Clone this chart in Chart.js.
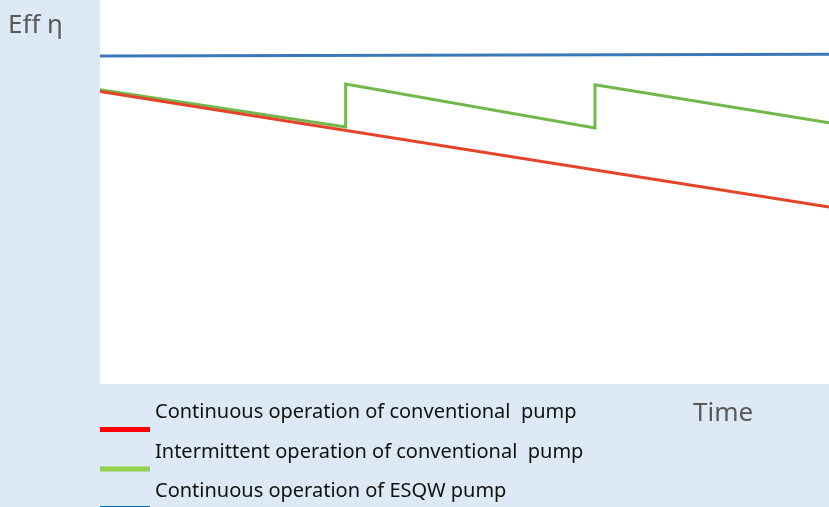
<!DOCTYPE html>
<html>
<head>
<meta charset="utf-8">
<script src="https://cdn.jsdelivr.net/npm/chart.js@4"></script>
<style>
  html, body { margin: 0; padding: 0; background: #dde9f5; }
  #wrap { width: 829px; height: 507px; }
</style>
</head>
<body>
<div id="wrap"><canvas id="effChart" width="829" height="507"></canvas></div>
<script>
// Data (time in % of span, efficiency in % of axis height)
const timeRed = [0, 100];
const effRed = [76.2, 46.1];

const timeGreen = [0, 33.7, 33.7, 67.9, 67.9, 100];
const effGreen = [76.6, 66.9, 78.1, 66.7, 77.9, 68.0];

const timeBlue = [0, 100];
const effBlue = [85.4, 85.9];

const seriesLabels = [
  'Continuous operation of conventional  pump',
  'Intermittent operation of conventional  pump',
  'Continuous operation of ESQW pump'
];
const yTitle = 'Eff η';
const xTitle = 'Time';

function toPoints(xs, ys) {
  return xs.map((x, i) => ({ x: x, y: ys[i] }));
}

// background: light blue page, white plot area
const bgPlugin = {
  id: 'bg',
  beforeDraw(chart) {
    const { ctx, chartArea } = chart;
    ctx.save();
    ctx.fillStyle = '#dde9f5';
    ctx.fillRect(0, 0, chart.width, chart.height);
    ctx.fillStyle = '#ffffff';
    ctx.fillRect(chartArea.left, chartArea.top, chartArea.right - chartArea.left, chartArea.bottom - chartArea.top);
    ctx.restore();
  }
};

// legend under the plot: coloured bar below-left of each label, plus axis names
const legendPlugin = {
  id: 'customLegend',
  afterDraw(chart) {
    const { ctx, chartArea } = chart;
    ctx.save();
    ctx.font = '20px "Noto Sans"';
    ctx.textBaseline = 'alphabetic';
    chart.data.datasets.forEach((ds, i) => {
      const base = chartArea.bottom + 34 + i * 39.5;
      ctx.fillStyle = ds.legendColor;
      ctx.fillRect(chartArea.left, base + 9, 50, 5);
      ctx.fillStyle = '#111111';
      ctx.fillText(ds.label, chartArea.left + 55, base);
    });
    ctx.fillStyle = '#595959';
    ctx.font = '26px "Noto Sans"';
    ctx.fillText(yTitle, 8, 33);
    ctx.fillText(xTitle, 693, chartArea.bottom + 37);
    ctx.restore();
  }
};

const ctx = document.getElementById('effChart').getContext('2d');

const data = {
  datasets: [
    {
      label: seriesLabels[0],
      data: toPoints(timeRed, effRed),
      borderColor: '#e5442b',
      legendColor: '#ff0000',
      borderWidth: 3
    },
    {
      label: seriesLabels[1],
      data: toPoints(timeGreen, effGreen),
      borderColor: '#72b84a',
      legendColor: '#92d050',
      borderWidth: 3
    },
    {
      label: seriesLabels[2],
      data: toPoints(timeBlue, effBlue),
      borderColor: '#3a78b8',
      legendColor: '#0070c0',
      borderWidth: 3
    }
  ]
};

const config = {
  type: 'line',
  data: data,
  options: {
    responsive: false,
    animation: false,
    layout: { padding: { left: 100, top: 0, right: 0, bottom: 123 } },
    elements: { point: { radius: 0 }, line: { tension: 0 } },
    plugins: {
      legend: { display: false },
      tooltip: { enabled: false }
    },
    scales: {
      x: { type: 'linear', min: 0, max: 100, display: false },
      y: { min: 0, max: 100, display: false }
    }
  },
  plugins: [bgPlugin, legendPlugin]
};

const effChart = new Chart(ctx, config);
</script>
</body>
</html>
